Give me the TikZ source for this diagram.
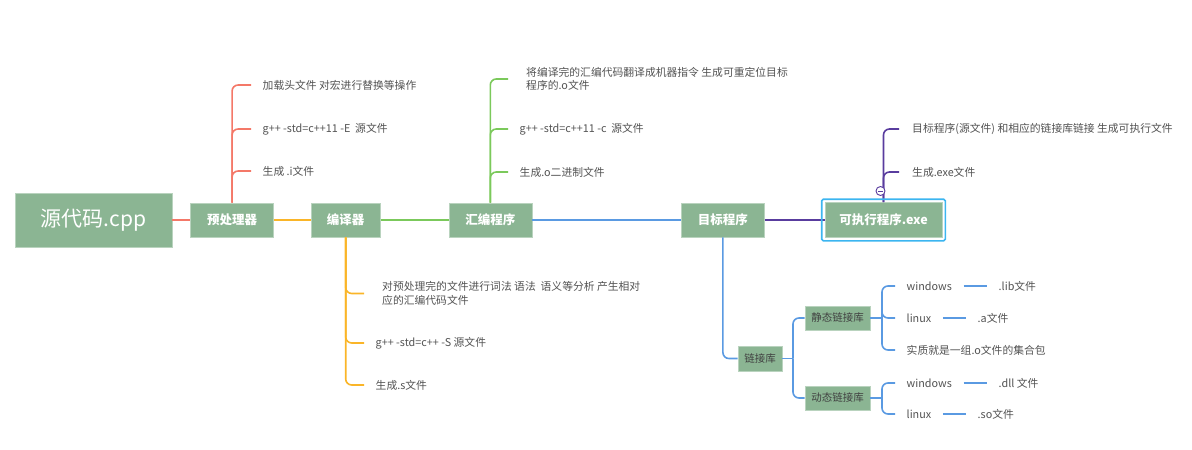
\documentclass[tikz,border=0pt]{standalone}
\usepackage{fontspec}
\setmainfont{Noto Sans CJK SC}
\usetikzlibrary{positioning}
\definecolor{verdesalvia}{HTML}{8BB593}
\definecolor{rojosalmon}{HTML}{F47868}
\definecolor{naranjamiel}{HTML}{FAB528}
\definecolor{verdehoja}{HTML}{7BC95B}
\definecolor{azulcielo}{HTML}{5A9AE2}
\definecolor{moradouva}{HTML}{593C9E}
\definecolor{azulseleccion}{HTML}{3CB5F0}
\colorlet{colCaja}{verdesalvia}
\colorlet{colRojo}{rojosalmon}
\colorlet{colNaranja}{naranjamiel}
\colorlet{colVerde}{verdehoja}
\colorlet{colAzul}{azulcielo}
\colorlet{colMorado}{moradouva}
\colorlet{colSeleccion}{azulseleccion}
\colorlet{colTexto}{black!68}
\colorlet{colTextoOscuro}{black!75}
\tikzset{
  cajaBase/.style={
    fill=colCaja, draw=colCaja!60!white, line width=0.6pt,
    inner sep=0pt, align=center, text=white,
    font=\fontsize{12.5}{15}\selectfont\bfseries
  },
  cajaFuente/.style={cajaBase, minimum width=157pt, minimum height=54pt,
    font=\fontsize{21}{25}\selectfont},
  cajaEtapa/.style={cajaBase, minimum width=83pt, minimum height=34pt},
  cajaLib/.style={cajaBase, minimum height=24pt, text=colTextoOscuro,
    font=\fontsize{10.5}{13}\selectfont},
  hoja/.style={anchor=west, inner xsep=11.5pt, inner ysep=2pt, align=left,
    font=\fontsize{10.8}{13.5}\selectfont, text=colTexto},
  enlace/.style={line width=1.8pt},
  rama/.style={line width=1.6pt, rounded corners=6pt},
  plegar/.style={circle, draw=colMorado, fill=white, line width=0.9pt,
    minimum size=9pt, inner sep=0pt},
  marcoSeleccion/.style={draw=colSeleccion, line width=1.6pt, rounded corners=1.5pt},
}
\begin{document}
\begin{tikzpicture}[x=1pt, y=-1pt]
  \useasboundingbox (0,0) rectangle (1192,450);

  % Etapas principales
  \node[cajaFuente] (fuente) at (93.5,220) {源代码.cpp};
  \node[cajaEtapa, right=18pt of fuente] (pre) {预处理器};
  \node[cajaEtapa, right=37pt of pre, minimum width=69pt] (comp) {编译器};
  \node[cajaEtapa, right=68pt of comp] (ens) {汇编程序};
  \node[cajaEtapa, right=149pt of ens] (obj) {目标程序};
  \node[cajaEtapa, right=60pt of obj, minimum width=117pt, minimum height=35pt] (exe) {可执行程序.exe};

  % Bibliotecas
  \node[cajaLib, minimum width=44pt, minimum height=25pt] (lib) at (760,358.5) {链接库};
  \node[cajaLib, minimum width=65pt] (estatico) at (837.5,318) {静态链接库};
  \node[cajaLib, minimum width=65pt] (dinamico) at (837.5,398) {动态链接库};

  % Hojas del preprocesador
  \node[hoja] (p1) at (251,85) {加载头文件 对宏进行替换等操作};
  \node[hoja] (p2) at (251,129) {g++ -std=c++11 -E~~源文件};
  \node[hoja] (p3) at (251,171) {生成 .i文件};

  % Hojas del compilador
  \node[hoja, inner xsep=18pt] (c1) at (364,293.5) {对预处理完的文件进行词法 语法~~语义等分析 产生相对\\应的汇编代码文件};
  \node[hoja] (c2) at (364,343) {g++ -std=c++ -S 源文件};
  \node[hoja] (c3) at (364,385) {生成.s文件};

  % Hojas del ensamblador
  \node[hoja, inner xsep=18pt] (e1) at (508,79) {将编译完的汇编代码翻译成机器指令 生成可重定位目标\\程序的.o文件};
  \node[hoja] (e2) at (508,129) {g++ -std=c++11 -c~~源文件};
  \node[hoja] (e3) at (508,172) {生成.o二进制文件};

  % Hojas del ejecutable
  \node[hoja, inner xsep=13pt] (x1) at (899,129) {目标程序(源文件) 和相应的链接库链接 生成可执行文件};
  \node[hoja, inner xsep=13pt] (x2) at (899,172) {生成.exe文件};

  % Hojas de las bibliotecas
  \node[hoja] (s1) at (895,286) {windows};
  \node[hoja] (s2) at (895,318) {linux};
  \node[hoja] (s3) at (895,350) {实质就是一组.o文件的集合包};
  \node[hoja] (s1b) at (987,286) {.lib文件};
  \node[hoja] (s2b) at (966,318) {.a文件};
  \node[hoja] (d1) at (895,383) {windows};
  \node[hoja] (d2) at (895,414) {linux};
  \node[hoja] (d1b) at (987,383) {.dll 文件};
  \node[hoja] (d2b) at (966,414) {.so文件};

  \coordinate (nudoLib) at (793,358.5);
  \coordinate (nudoEst) at (882,318);
  \coordinate (nudoDin) at (882,398);

  % Enlaces principales
  \draw[enlace, colRojo] (fuente) -- (pre);
  \draw[enlace, colNaranja] (pre) -- (comp);
  \draw[enlace, colVerde] (comp) -- (ens);
  \draw[enlace, colAzul] (ens) -- (obj);
  \draw[enlace, colMorado] (obj) -- (exe);

  % Ramas
  \foreach \h in {p1,p2,p3} \draw[rama, colRojo] (pre.north) |- (\h.west);
  \foreach \h in {c1,c2,c3} \draw[rama, colNaranja] (comp.south) |- (\h.west);
  \foreach \h in {e1,e2,e3} \draw[rama, colVerde] (ens.north) |- (\h.west);
  \foreach \h in {x1,x2} \draw[rama, colMorado] (exe.north) |- (\h.west);
  \draw[rama, colAzul] (obj.south) |- (lib.west);
  \draw[rama, colAzul] (lib.east) -- (nudoLib);
  \foreach \h in {estatico,dinamico} \draw[rama, colAzul] (nudoLib) |- (\h.west);
  \draw[rama, colAzul] (estatico.east) -- (nudoEst);
  \foreach \h in {s1,s2,s3} \draw[rama, colAzul] (nudoEst) |- (\h.west);
  \draw[rama, colAzul] (dinamico.east) -- (nudoDin);
  \foreach \h in {d1,d2} \draw[rama, colAzul] (nudoDin) |- (\h.west);
  \draw[rama, colAzul] (s1.east) -- (s1.east -| s1b.west);
  \draw[rama, colAzul] (s2.east) -- (s2.east -| s2b.west);
  \draw[rama, colAzul] (d1.east) -- (d1.east -| d1b.west);
  \draw[rama, colAzul] (d2.east) -- (d2.east -| d2b.west);

  % Seleccion y plegado
  \draw[marcoSeleccion] ([shift={(-3pt,3pt)}]exe.north west) rectangle ([shift={(3pt,-3pt)}]exe.south east);
  \node[plegar] (plegarExe) at (880.5,191) {};
  \draw[colMorado, line width=0.9pt] ([xshift=-2.5pt]plegarExe.center) -- ([xshift=2.5pt]plegarExe.center);
\end{tikzpicture}
\end{document}
